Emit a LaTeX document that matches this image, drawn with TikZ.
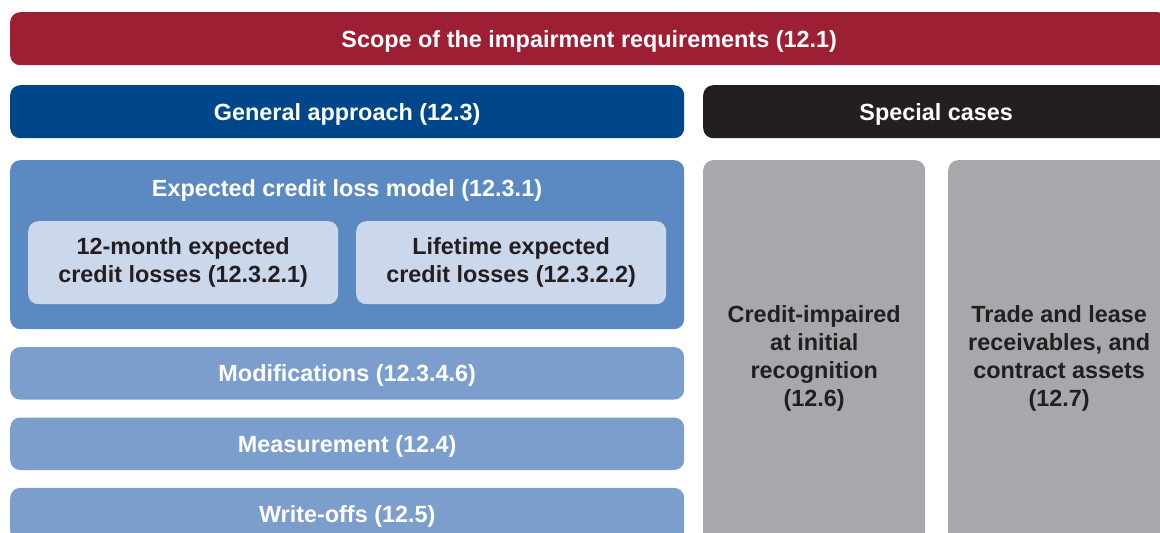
\documentclass[tikz,border=0pt]{standalone}
\usepackage{fontspec}
\setmainfont{Liberation Sans}
\usepackage{xcolor}
\usepackage{tikz}
\usetikzlibrary{positioning}

\definecolor{scopered}{HTML}{9D1F34}
\definecolor{generalblue}{HTML}{00468B}
\definecolor{eclblue}{HTML}{5A8AC1}
\definecolor{innerblue}{HTML}{CBD7EA}
\definecolor{lightblue}{HTML}{7B9ECC}
\definecolor{specialblack}{HTML}{231F20}
\definecolor{casegray}{HTML}{A7A8AB}
\definecolor{darktext}{HTML}{231F20}

\begin{document}
\begin{tikzpicture}[x=1pt,y=1pt,
                    box/.style={rounded corners=10pt,inner sep=0pt,align=center,anchor=north west,
                                font=\bfseries\fontsize{23.4}{28}\selectfont,
                                execute at begin node={\rule{0pt}{21.5pt}}},
                    bar/.style={box,minimum height=53pt,text=white},
                    inner box/.style={box,fill=innerblue,text=darktext,minimum width=310pt,minimum height=83pt},
                    case box/.style={box,fill=casegray,text=darktext,minimum width=222pt,minimum height=396pt}]

  \clip (0,0) rectangle (1160,-533);
  \useasboundingbox (0,0) rectangle (1160,-533);

  \node[bar,fill=scopered,minimum width=1158pt] (scope) at (10,-12) {Scope of the impairment requirements (12.1)};
  \node[bar,fill=generalblue,minimum width=674pt] (general) at (10,-85) {General approach (12.3)};
  \node[bar,fill=specialblack,minimum width=466pt] (special) at (703,-85) {Special cases};

  % expected credit loss model
  \node[box,fill=eclblue,minimum width=674pt,minimum height=169pt] (ecl) at (10,-160) {};
  \node[text=white,font=\bfseries\fontsize{23.4}{28}\selectfont] (ecltitle) at (347,-190.5) {Expected credit loss model (12.3.1)};
  \node[inner box] (twelve) at (28,-221) {12-month expected\\credit losses (12.3.2.1)};
  \node[inner box] (lifetime) at (356,-221) {Lifetime expected\\credit losses (12.3.2.2)};

  \node[bar,fill=lightblue,minimum width=674pt,minimum height=52.5pt] (modif) [below=17.5pt of ecl.south west,anchor=north west] {Modifications (12.3.4.6)};
  \node[bar,fill=lightblue,minimum width=674pt,minimum height=52.5pt] (measure) [below=17.5pt of modif.south west,anchor=north west] {Measurement (12.4)};
  \node[bar,fill=lightblue,minimum width=674pt] (writeoff) [below=17.5pt of measure.south west,anchor=north west] {Write-offs (12.5)};

  % special cases
  \node[case box] (impaired) at (703,-160) {Credit-impaired\\at initial\\recognition\\(12.6)};
  \node[case box] (trade) at (948,-160) {Trade and lease\\receivables, and\\contract assets\\(12.7)};

\end{tikzpicture}
\end{document}
